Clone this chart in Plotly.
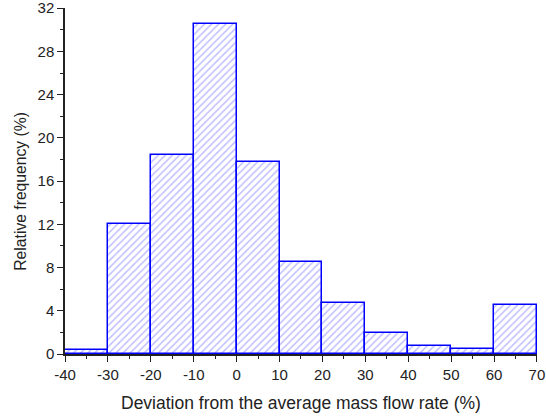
import plotly.graph_objects as go

bin_left = [-40, -30, -20, -10, 0, 10, 20, 30, 40, 50, 60]
bin_width = 10
frequency = [0.4, 12.0, 18.4, 30.5, 17.75, 8.55, 4.75, 1.95, 0.7, 0.45, 4.5]
x_ticks = [-40, -30, -20, -10, 0, 10, 20, 30, 40, 50, 60, 70]
y_ticks = [0, 4, 8, 12, 16, 20, 24, 28, 32]
x_title = "Deviation from the average mass flow rate (%)"
y_title = "Relative frequency (%)"

centers = [b + bin_width / 2 for b in bin_left]

fig = go.Figure()
fig.add_trace(go.Bar(
    x=centers, y=frequency, width=[bin_width] * len(centers),
    marker=dict(
        color="white",
        line=dict(color="#0000ff", width=1.5),
        pattern=dict(shape="/", fgcolor="#8080ff", bgcolor="white", size=5, solidity=0.3),
    ),
    showlegend=False,
))

fam = "Liberation Sans, Arial, sans-serif"
tick_font = dict(family=fam, size=15, color="#222")
fig.update_layout(
    width=546, height=419,
    margin=dict(l=65, r=9, t=8, b=65),
    plot_bgcolor="white", paper_bgcolor="white",
    bargap=0,
    font=dict(family=fam, size=15, color="#222"),
    xaxis=dict(
        range=[-40, 70.01], tickvals=x_ticks, ticktext=[str(v) for v in x_ticks],
        showgrid=False, zeroline=False, automargin=False, ticklabeloverflow="allow",
        showline=True, linecolor="#222", linewidth=1.5,
        ticks="outside", ticklen=6, tickcolor="#222", tickwidth=1.2,
        minor=dict(ticks="outside", ticklen=3, dtick=5, tick0=0, tickcolor="#222"),
        tickfont=tick_font,
    ),
    yaxis=dict(
        range=[0, 32.02], tickvals=y_ticks, ticktext=[str(v) for v in y_ticks],
        showgrid=False, zeroline=False, automargin=False, ticklabeloverflow="allow",
        showline=True, linecolor="#222", linewidth=1.5,
        ticks="outside", ticklen=6, tickcolor="#222", tickwidth=1.2,
        minor=dict(ticks="outside", ticklen=3, dtick=2, tick0=0, tickcolor="#222"),
        tickfont=tick_font,
    ),
    annotations=[
        dict(text=x_title, xref="paper", yref="paper", x=0.5, y=-0.1416,
             xanchor="center", yanchor="middle", showarrow=False,
             font=dict(family=fam, size=17.5, color="#222")),
        dict(text=y_title, xref="paper", yref="paper", x=-0.096, y=0.471,
             xanchor="center", yanchor="middle", showarrow=False, textangle=-90,
             font=dict(family=fam, size=15.7, color="#222")),
    ],
)

fig.write_html("out.html", config={"displayModeBar": False},
               post_script="document.body.style.margin='0';document.body.style.overflow='hidden';")
